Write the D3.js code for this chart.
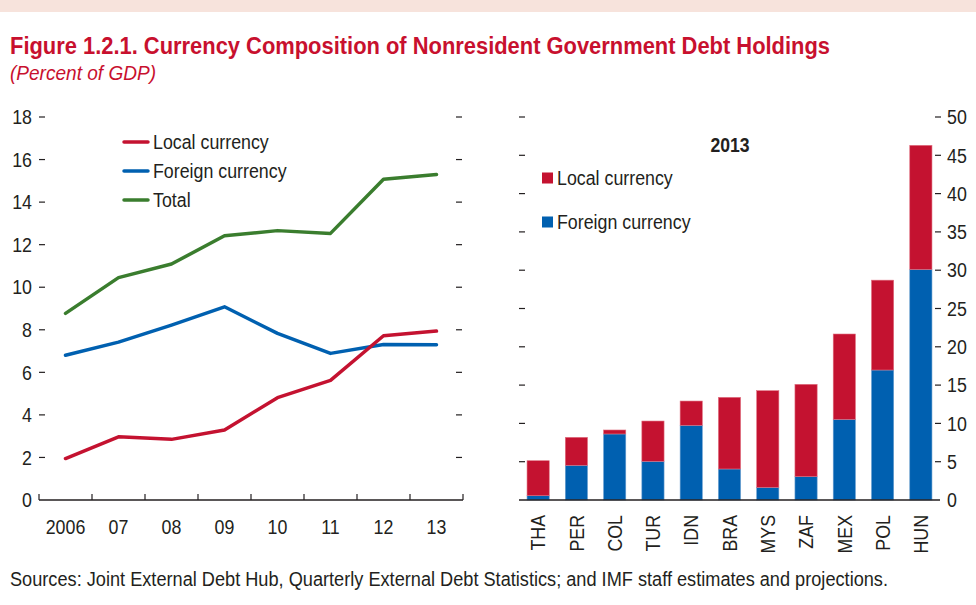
<!DOCTYPE html>
<html>
<head>
<meta charset="utf-8">
<script src="https://cdn.jsdelivr.net/npm/d3@7"></script>
<style>
  html, body { margin: 0; padding: 0; background: #fff; }
  svg { display: block; }
  text { font-family: "Liberation Sans", Arial, sans-serif; fill: #231f20; }
</style>
</head>
<body>
<svg id="chart" width="976" height="605"></svg>
<script>
// ---- Data ----
const years = ["2006", "07", "08", "09", "10", "11", "12", "13"];
const localSeries   = [1.95, 2.97, 2.85, 3.29, 4.81, 5.62, 7.72, 7.94];
const foreignSeries = [6.80, 7.42, 8.22, 9.08, 7.83, 6.89, 7.31, 7.30];
const totalSeries   = [8.77, 10.45, 11.09, 12.42, 12.66, 12.53, 15.07, 15.30];
const leftTicks = [0, 2, 4, 6, 8, 10, 12, 14, 16, 18];

const countries = ["THA", "PER", "COL", "TUR", "IDN", "BRA", "MYS", "ZAF", "MEX", "POL", "HUN"];
const foreign2013 = [0.56, 4.53, 8.62, 5.05, 9.75, 4.05, 1.65, 3.05, 10.53, 16.97, 30.1];
const local2013   = [4.57, 3.65, 0.52, 5.26, 3.17, 9.35, 12.62, 12.05, 11.14, 11.73, 16.2];
const rightTicks = [0, 5, 10, 15, 20, 25, 30, 35, 40, 45, 50];

const lineLegend = ["Local currency", "Foreign currency", "Total"];
const barLegend = ["Local currency", "Foreign currency"];

const RED = "#c41230", BLUE = "#0060b0", GREEN = "#3a7d2e", INK = "#231f20";
const K = 0.89;       // horizontal condensing of the regular text
const FS = "20px";

const svg = d3.select("#chart");

// condense a text horizontally (keeps it real text)
function condense(sel, k) {
  sel.each(function () {
    const n = this.getComputedTextLength();
    d3.select(this).attr("textLength", n * k).attr("lengthAdjust", "spacingAndGlyphs");
  });
  return sel;
}
function fitTo(sel, w) {
  sel.attr("textLength", w).attr("lengthAdjust", "spacingAndGlyphs");
  return sel;
}

// top band
svg.append("rect").attr("x", 0).attr("y", 0).attr("width", 976).attr("height", 12).attr("fill", "#f7e3dc");

// titles
fitTo(svg.append("text").attr("x", 10).attr("y", 54)
  .style("font-weight", "bold").style("font-size", "23px").style("fill", "#c8102e")
  .text("Figure 1.2.1. Currency Composition of Nonresident Government Debt Holdings"), 820);
fitTo(svg.append("text").attr("x", 10).attr("y", 80)
  .style("font-style", "italic").style("font-size", "20px").style("fill", "#c8102e")
  .text("(Percent of GDP)"), 146);

// ---- Left panel ----
const xL = d3.scaleBand().domain(years).range([39, 463]).padding(0);
const yL = d3.scaleLinear().domain([0, 18]).range([500, 117]);
const gL = svg.append("g");

leftTicks.forEach(t => {
  condense(gL.append("text").attr("x", 32).attr("y", yL(t)).attr("dy", "0.36em")
    .attr("text-anchor", "end").style("font-size", FS).text(t), K);
  if (t > 0) {
    gL.append("line").attr("x1", 39).attr("x2", 45).attr("y1", yL(t)).attr("y2", yL(t))
      .attr("stroke", INK).attr("stroke-width", 1.2);
    gL.append("line").attr("x1", 456).attr("x2", 462).attr("y1", yL(t)).attr("y2", yL(t))
      .attr("stroke", INK).attr("stroke-width", 1.2);
  }
});

// x axis
gL.append("line").attr("x1", 39).attr("x2", 463).attr("y1", 500).attr("y2", 500)
  .attr("stroke", INK).attr("stroke-width", 1.6);
const bounds = years.map(y => xL(y)).concat([xL.range()[1]]);
bounds.forEach(b => {
  gL.append("line").attr("x1", b).attr("x2", b).attr("y1", 500).attr("y2", 494)
    .attr("stroke", INK).attr("stroke-width", 1.2);
});
years.forEach(y => {
  condense(gL.append("text").attr("x", xL(y) + xL.bandwidth() / 2).attr("y", 534)
    .attr("text-anchor", "middle").style("font-size", FS).text(y), K);
});

// lines
const line = d3.line().x((d, i) => xL(years[i]) + xL.bandwidth() / 2).y(d => yL(d));
[[totalSeries, GREEN], [foreignSeries, BLUE], [localSeries, RED]].forEach(([s, c]) => {
  gL.append("path").attr("d", line(s)).attr("fill", "none").attr("stroke", c)
    .attr("stroke-width", 3.5).attr("stroke-linejoin", "round").attr("stroke-linecap", "round");
});

// legend
const legColors = [RED, BLUE, GREEN];
lineLegend.forEach((name, i) => {
  const y = 142 + i * 29;
  gL.append("line").attr("x1", 124).attr("x2", 148).attr("y1", y).attr("y2", y)
    .attr("stroke", legColors[i]).attr("stroke-width", 3.5).attr("stroke-linecap", "round");
  condense(gL.append("text").attr("x", 153).attr("y", y).attr("dy", "0.36em")
    .style("font-size", FS).text(name), K);
});

// ---- Right panel ----
const xR = d3.scaleBand().domain(countries).range([519, 940]).paddingInner(0.42).paddingOuter(0.21);
const yR = d3.scaleLinear().domain([0, 50]).range([500, 117]);
const gR = svg.append("g");

rightTicks.forEach(t => {
  condense(gR.append("text").attr("x", 947).attr("y", yR(t)).attr("dy", "0.36em")
    .style("font-size", FS).text(t), K);
  if (t > 0) {
    gR.append("line").attr("x1", 519).attr("x2", 525).attr("y1", yR(t)).attr("y2", yR(t))
      .attr("stroke", INK).attr("stroke-width", 1.2);
    gR.append("line").attr("x1", 935).attr("x2", 941).attr("y1", yR(t)).attr("y2", yR(t))
      .attr("stroke", INK).attr("stroke-width", 1.2);
  }
});

const stackData = countries.map((c, i) => ({ c, foreign: foreign2013[i], local: local2013[i] }));
const stack = d3.stack().keys(["foreign", "local"])(stackData);
const barColors = { foreign: BLUE, local: RED };
stack.forEach(layer => {
  gR.selectAll(null).data(layer).enter().append("rect")
    .attr("x", d => xR(d.data.c))
    .attr("width", xR.bandwidth())
    .attr("y", d => yR(d[1]))
    .attr("height", d => yR(d[0]) - yR(d[1]))
    .attr("fill", barColors[layer.key])
    .attr("stroke", layer.key === "local" ? "#e07080" : "#6a9fd0")
    .attr("stroke-width", 0.6);
});

gR.append("line").attr("x1", 519).attr("x2", 940).attr("y1", 500).attr("y2", 500)
  .attr("stroke", INK).attr("stroke-width", 1.6);

countries.forEach(c => {
  condense(gR.append("text")
    .attr("transform", `translate(${xR(c) + xR.bandwidth() / 2},515) rotate(-90)`)
    .attr("dy", "0.36em").attr("text-anchor", "end")
    .style("font-size", FS).text(c), K);
});

condense(gR.append("text").attr("x", 730).attr("y", 152).attr("text-anchor", "middle")
  .style("font-size", "20px").style("font-weight", "bold").text("2013"), 0.88);

const barLegColors = [RED, BLUE];
barLegend.forEach((name, i) => {
  const y = 178 + i * 44;
  gR.append("rect").attr("x", 542).attr("y", y - 5.5).attr("width", 11).attr("height", 11)
    .attr("fill", barLegColors[i]);
  condense(gR.append("text").attr("x", 557).attr("y", y).attr("dy", "0.36em")
    .style("font-size", FS).text(name), K);
});

// footer
fitTo(svg.append("text").attr("x", 10).attr("y", 586)
  .style("font-size", "19.5px")
  .text("Sources: Joint External Debt Hub, Quarterly External Debt Statistics; and IMF staff estimates and projections."), 878);
</script>
</body>
</html>
